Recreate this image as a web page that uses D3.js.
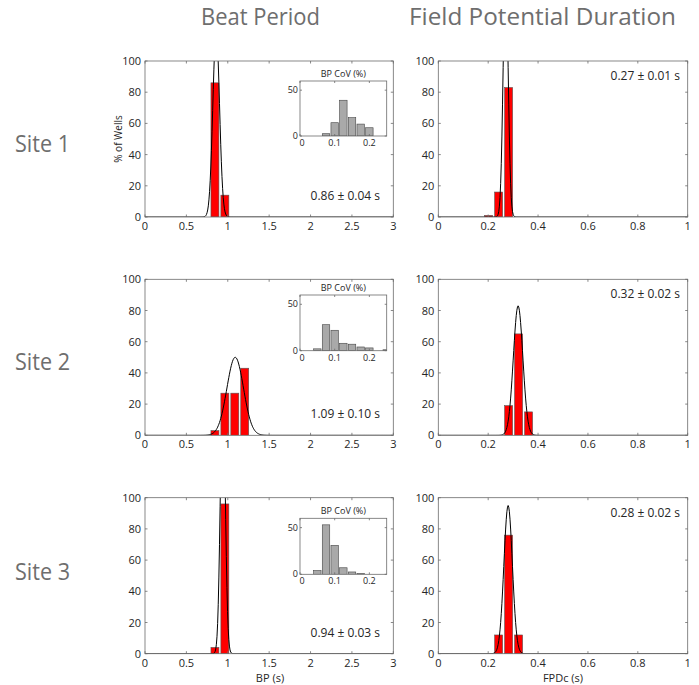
<!DOCTYPE html>
<html><head><meta charset="utf-8">
<script src="https://cdn.jsdelivr.net/npm/d3@7"></script>
<style>
body{margin:0;background:#fff}
text{font-family:"Open Sans",sans-serif}
</style>
</head><body>
<svg id="chart" width="699" height="685"></svg>
<script>
// ---------- data ----------
const siteLabels = ["Site 1", "Site 2", "Site 3"];
const columnTitles = ["Beat Period", "Field Potential Duration"];
const xAxisLabels = ["BP (s)", "FPDc (s)"];
const yAxisLabel = "% of Wells";
const insetTitle = "BP CoV (%)";

// Beat period histograms (% of wells)
const bpBinCenters = [0.845, 0.965, 1.085, 1.205];
const bpSite1 = [86, 14, 0, 0];
const bpSite2 = [3, 27, 27, 43];
const bpSite3 = [4, 96, 0, 0];
const bpBinWidth = 0.12;

// FPDc histograms (% of wells)
const fpdBinCenters = [0.202, 0.242, 0.282, 0.322, 0.362];
const fpdSite1 = [1, 16, 83, 0, 0];
const fpdSite2 = [0, 0, 19, 65, 15];
const fpdSite3 = [0, 12, 76, 12, 0];
const fpdBinWidth = 0.04;

// summary stats (mean ± sd) and normal fit peak heights
const bpMean = [0.86, 1.09, 0.94];
const bpSd = [0.04, 0.10, 0.03];
const bpFitPeak = [120, 50, 170];
const fpdMean = [0.27, 0.32, 0.28];
const fpdSd = [0.01, 0.02, 0.02];
const fpdFitSd = [0.010, 0.019, 0.017];
const fpdFitPeak = [158, 83, 95];

// BP CoV inset histograms (%)
const covBinCenters = [0.05, 0.075, 0.1, 0.125, 0.15, 0.175, 0.2, 0.225, 0.25];
const covSite1 = [0, 2.5, 14.5, 39, 20, 13, 9, 0, 0];
const covSite2 = [2, 28, 22, 8, 7, 4, 3, 0, 1];
const covSite3 = [4, 53, 31, 7, 2.5, 1, 0, 0, 0];
const covBinWidth = 0.025;

// ticks
const bpTicks = [0, 0.5, 1, 1.5, 2, 2.5, 3];
const fpdTicks = [0, 0.2, 0.4, 0.6, 0.8, 1];
const pctTicks = [0, 20, 40, 60, 80, 100];
const covXTicks = [0, 0.1, 0.2];
const covYTicks = [0, 50];

// ---------- layout ----------
const rowTop = [61, 279.3, 497.7];
const plotH = 156;
const leftX = [145, 393.3];
const rightX = [438.3, 687.7];
const insetX = [300, 386.7];
const insetY = [[81, 136], [295, 350.7], [518.3, 574.3]];
const siteBaseline = [152, 370, 580];

const axisColor = "#6b6b6b";
const textColor = "#262626";
const titleColor = "#6e6e6e";

const svg = d3.select("#chart");
const defs = svg.append("defs");
let clipId = 0;

function drawAxes(g, x, y, xTicks, yTicks, tickLen) {
  const [x0, x1] = x.range();
  const [yb, yt] = y.range();
  g.append("rect").attr("x", x0).attr("y", yt).attr("width", x1 - x0).attr("height", yb - yt)
    .attr("fill", "none").attr("stroke", axisColor).attr("stroke-width", 0.8);
  xTicks.forEach(t => {
    const px = x(t);
    g.append("line").attr("x1", px).attr("x2", px).attr("y1", yb).attr("y2", yb - tickLen)
      .attr("stroke", axisColor).attr("stroke-width", 0.8);
    g.append("line").attr("x1", px).attr("x2", px).attr("y1", yt).attr("y2", yt + tickLen)
      .attr("stroke", axisColor).attr("stroke-width", 0.8);
  });
  yTicks.forEach(t => {
    const py = y(t);
    g.append("line").attr("x1", x0).attr("x2", x0 + tickLen).attr("y1", py).attr("y2", py)
      .attr("stroke", axisColor).attr("stroke-width", 0.8);
    g.append("line").attr("x1", x1).attr("x2", x1 - tickLen).attr("y1", py).attr("y2", py)
      .attr("stroke", axisColor).attr("stroke-width", 0.8);
  });
}

function clipRect(x, y) {
  const id = "clip" + (clipId++);
  const [x0, x1] = x.range();
  const [yb, yt] = y.range();
  defs.append("clipPath").attr("id", id).append("rect")
    .attr("x", x0).attr("y", yt).attr("width", x1 - x0).attr("height", yb - yt);
  return "url(#" + id + ")";
}

function drawPanel(opt) {
  const g = svg.append("g");
  const x = d3.scaleLinear().domain(opt.xDomain).range(opt.xRange);
  const y = d3.scaleLinear().domain([0, 100]).range([opt.top + plotH, opt.top]);
  const clip = clipRect(x, y);
  const plot = g.append("g").attr("clip-path", clip);
  const bw = opt.binWidth * 0.8;
  const data = opt.centers.map((c, i) => ({c, v: opt.values[i]})).filter(d => d.v > 0);
  plot.selectAll("rect.bar").data(data).join("rect")
    .attr("x", d => x(d.c - bw / 2))
    .attr("width", d => x(d.c + bw / 2) - x(d.c - bw / 2))
    .attr("y", d => y(d.v))
    .attr("height", d => y(0) - y(d.v))
    .attr("fill", "#ff0000").attr("stroke", "#555").attr("stroke-width", 0.6);
  // normal fit
  const n = 400;
  const pts = d3.range(n + 1).map(i => {
    const xv = opt.xDomain[0] + (opt.xDomain[1] - opt.xDomain[0]) * i / n;
    return [xv, opt.fitPeak * Math.exp(-0.5 * Math.pow((xv - opt.fitMean) / opt.fitSd, 2))];
  });
  plot.append("path").datum(pts)
    .attr("d", d3.line().x(d => x(d[0])).y(d => y(d[1])))
    .attr("fill", "none").attr("stroke", "#000").attr("stroke-width", 1);
  drawAxes(g, x, y, opt.xTicks, pctTicks, 2.5);
  // tick labels
  g.selectAll("text.xt").data(opt.xTicks).join("text")
    .attr("x", d => x(d)).attr("y", opt.top + plotH + 13)
    .attr("text-anchor", "middle").attr("font-size", 11).attr("fill", textColor)
    .text(d => d3.format("~g")(d));
  g.selectAll("text.yt").data(pctTicks).join("text")
    .attr("x", opt.xRange[0] - 4).attr("y", d => y(d) + 4)
    .attr("text-anchor", "end").attr("font-size", 11).attr("fill", textColor)
    .text(d => d);
  // stat text
  g.append("text").attr("x", opt.statX).attr("y", opt.statY)
    .attr("text-anchor", "end").attr("font-size", 12).attr("fill", textColor)
    .text(opt.stat);
  return g;
}

function drawInset(row, values) {
  const g = svg.append("g");
  const [yt, yb] = insetY[row];
  const x = d3.scaleLinear().domain([0, 0.25]).range(insetX);
  const y = d3.scaleLinear().domain([0, 60]).range([yb, yt]);
  g.append("rect").attr("x", insetX[0]).attr("y", yt).attr("width", insetX[1] - insetX[0])
    .attr("height", yb - yt).attr("fill", "#fff");
  const clip = clipRect(x, y);
  const plot = g.append("g").attr("clip-path", clip);
  const bw = covBinWidth * 0.86;
  const data = covBinCenters.map((c, i) => ({c, v: values[i]})).filter(d => d.v > 0);
  plot.selectAll("rect").data(data).join("rect")
    .attr("x", d => x(d.c - bw / 2))
    .attr("width", d => x(d.c + bw / 2) - x(d.c - bw / 2))
    .attr("y", d => y(d.v)).attr("height", d => y(0) - y(d.v))
    .attr("fill", "#a9a9a9").attr("stroke", "#444").attr("stroke-width", 0.6);
  drawAxes(g, x, y, covXTicks, covYTicks, 2);
  g.selectAll("text.xt").data(covXTicks).join("text")
    .attr("x", d => x(d) + (d === 0 ? 2 : 0)).attr("y", yb + 10)
    .attr("text-anchor", "middle").attr("font-size", 9).attr("fill", textColor)
    .text(d => d3.format("~g")(d));
  g.selectAll("text.yt").data(covYTicks).join("text")
    .attr("x", insetX[0] - 2).attr("y", d => y(d) + 3)
    .attr("text-anchor", "end").attr("font-size", 9).attr("fill", textColor)
    .text(d => d);
  g.append("text").attr("x", (insetX[0] + insetX[1]) / 2).attr("y", yt - 4)
    .attr("text-anchor", "middle").attr("font-size", 9).attr("fill", textColor)
    .text(insetTitle);
}

const bpSeries = [bpSite1, bpSite2, bpSite3];
const fpdSeries = [fpdSite1, fpdSite2, fpdSite3];
const covSeries = [covSite1, covSite2, covSite3];
const pm = (m, s) => m.toFixed(2) + " \u00B1 " + s.toFixed(2) + " s";

for (let r = 0; r < 3; r++) {
  const top = rowTop[r];
  drawPanel({
    top, xDomain: [0, 3], xRange: leftX, xTicks: bpTicks,
    centers: bpBinCenters, values: bpSeries[r], binWidth: bpBinWidth,
    fitMean: bpMean[r], fitSd: bpSd[r], fitPeak: bpFitPeak[r],
    stat: pm(bpMean[r], bpSd[r]), statX: 380, statY: top + 139
  });
  drawInset(r, covSeries[r]);
  drawPanel({
    top, xDomain: [0, 1], xRange: rightX, xTicks: fpdTicks,
    centers: fpdBinCenters, values: fpdSeries[r], binWidth: fpdBinWidth,
    fitMean: fpdMean[r], fitSd: fpdFitSd[r], fitPeak: fpdFitPeak[r],
    stat: pm(fpdMean[r], fpdSd[r]), statX: 680, statY: top + 19
  });
  svg.append("text").attr("x", 15).attr("y", siteBaseline[r])
    .attr("font-size", 23).attr("fill", titleColor)
    .attr("textLength", 55).attr("lengthAdjust", "spacingAndGlyphs")
    .text(siteLabels[r]);
}

// column titles
svg.append("text").attr("x", 201).attr("y", 25)
  .attr("font-size", 24).attr("fill", titleColor)
  .attr("textLength", 119).attr("lengthAdjust", "spacingAndGlyphs")
  .text(columnTitles[0]);
svg.append("text").attr("x", 409).attr("y", 25)
  .attr("font-size", 24).attr("fill", titleColor)
  .attr("textLength", 267).attr("lengthAdjust", "spacingAndGlyphs")
  .text(columnTitles[1]);

// axis labels
svg.append("text").attr("transform", "translate(122,139) rotate(-90)")
  .attr("text-anchor", "middle").attr("font-size", 10).attr("fill", textColor).text(yAxisLabel);
svg.append("text").attr("x", 270).attr("y", 682).attr("text-anchor", "middle")
  .attr("font-size", 11).attr("fill", textColor).text(xAxisLabels[0]);
svg.append("text").attr("x", 563).attr("y", 682).attr("text-anchor", "middle")
  .attr("font-size", 11).attr("fill", textColor).text(xAxisLabels[1]);
</script>
</body></html>
